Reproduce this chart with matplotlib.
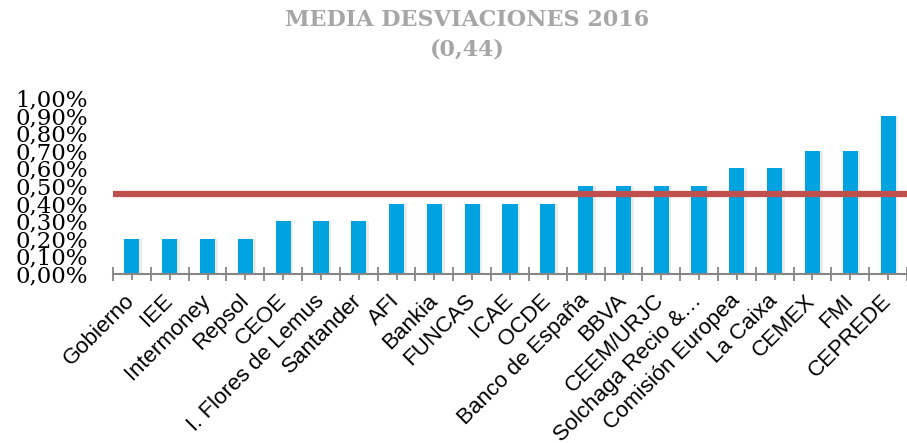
import numpy as np
import matplotlib
matplotlib.use("Agg")
import matplotlib.pyplot as plt
from matplotlib.ticker import FixedLocator, NullFormatter

entidades = ["Gobierno", "IEE", "Intermoney", "Repsol", "CEOE",
             "I. Flores de Lemus", "Santander", "AFI", "Bankia", "FUNCAS",
             "ICAE", "OCDE", "Banco de España", "BBVA", "CEEM/URJC",
             "Solchaga Recio &…", "Comisión Europea", "La Caixa", "CEMEX",
             "FMI", "CEPREDE"]
desviaciones = [0.2, 0.2, 0.2, 0.2, 0.3, 0.3, 0.3, 0.4, 0.4, 0.4, 0.4, 0.4,
                0.5, 0.5, 0.5, 0.5, 0.6, 0.6, 0.7, 0.7, 0.9]
media = 0.455
y_ticks = [0.0, 0.1, 0.2, 0.3, 0.4, 0.5, 0.6, 0.7, 0.8, 0.9, 1.0]
y_labels = ["0,00%", "0,10%", "0,20%", "0,30%", "0,40%", "0,50%",
            "0,60%", "0,70%", "0,80%", "0,90%", "1,00%"]

fig = plt.figure(figsize=(9.07, 4.43), dpi=100)
ax = fig.add_axes([113 / 907, 1 - 274 / 443, 794 / 907, 176 / 443])

x = np.arange(len(entidades))
# soft shadow behind the bars
ax.bar(x + 0.05, desviaciones, width=0.44, color="#000000", alpha=0.08,
       zorder=1)
ax.bar(x, desviaciones, width=0.4, color="#00A3E0", zorder=2)
ax.axhline(media, color="#C0504D", linewidth=4.5, zorder=3)

ax.set_xlim(-0.5, len(entidades) - 0.5)
ax.set_ylim(0, 1.0)

for side in ["top", "right", "left"]:
    ax.spines[side].set_visible(False)
ax.spines["bottom"].set_color("#868686")
ax.spines["bottom"].set_linewidth(1.5)
ax.spines["bottom"].set_zorder(4)

ax.set_yticks(y_ticks)
ax.set_yticklabels(y_labels, family="DejaVu Serif", fontsize=16.5)
ax.tick_params(axis="y", length=0, pad=18)

ax.set_xticks(x)
ax.set_xticklabels(entidades, rotation=45, ha="right", va="center",
                   rotation_mode="anchor", family="Liberation Sans",
                   fontsize=16)
ax.tick_params(axis="x", which="major", direction="inout", length=8,
               width=1.3, color="#868686", pad=13)
ax.xaxis.set_minor_locator(FixedLocator(np.arange(-0.5, len(entidades), 1.0)))
ax.xaxis.set_minor_formatter(NullFormatter())
ax.tick_params(axis="x", which="minor", direction="inout", length=10,
               width=1.3, color="#868686")

fig.text(0.515, 0.98, "MEDIA DESVIACIONES 2016\n(0,44)", ha="center",
         va="top", family="DejaVu Serif", fontweight="bold", fontsize=16,
         color="#A6A6A6", linespacing=1.45)

fig.savefig("out.png", dpi=100)
